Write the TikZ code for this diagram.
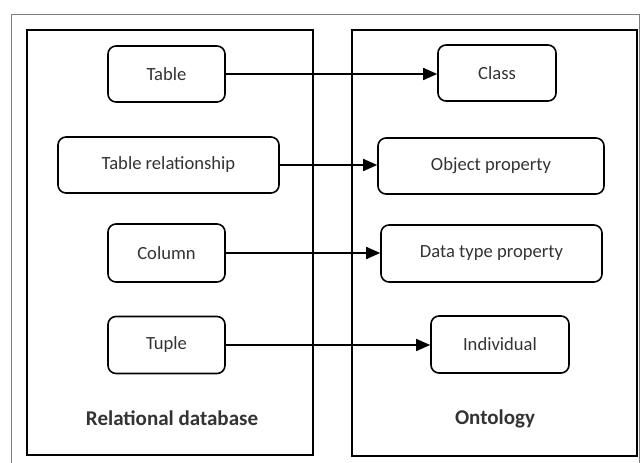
\documentclass[tikz,border=0pt]{standalone}
\usepackage{fontspec}
\setmainfont{Carlito}
\usetikzlibrary{arrows.meta}
\definecolor{txt}{HTML}{333333}
\definecolor{frame}{HTML}{808080}
\tikzset{
  item/.style={draw=black, line width=1.6pt, rounded corners=8pt, inner sep=0pt, text=txt, font=\fontsize{18.6}{22}\selectfont},
  group/.style={draw=black, line width=1.6pt},
  link/.style={line width=1.6pt, -{Triangle[length=14pt,width=12pt]}},
  grouplabel/.style={text=txt, font=\fontsize{21}{24}\bfseries\selectfont}
}
\begin{document}
\begin{tikzpicture}[x=1pt,y=-1pt]
\useasboundingbox (0,0) rectangle (641,463);
\draw[frame, line width=1pt] (11,14) rectangle (639,470);
\draw[group] (27,30) rectangle (313,455);
\draw[group] (352,30) rectangle (637,456);
% left items
\node[item, minimum width=117pt, minimum height=56pt] (table) at (166.5,74) {Table};
\node[item, minimum width=221pt, minimum height=56pt] (rel) at (168.5,165) {Table relationship};
\node[item, minimum width=117pt, minimum height=58pt] (col) at (166.5,253) {Column};
\node[item, minimum width=117pt, minimum height=57pt] (tuple) at (166.5,345) {Tuple};
\node[grouplabel] (rdb) at (172,418) {Relational database};
% right items
\node[item, minimum width=118pt, minimum height=56pt] (class) at (497,73) {Class};
\node[item, minimum width=226pt, minimum height=56pt] (obj) at (491,166) {Object property};
\node[item, minimum width=221pt, minimum height=57pt] (data) at (491.5,253.5) {Data type property};
\node[item, minimum width=138pt, minimum height=57pt] (ind) at (500,344.5) {Individual};
\node[grouplabel] (ont) at (495,419) {Ontology};
% links
\draw[link] (table.east) -- (table.east -| class.west);
\draw[link] (rel.east) -- (rel.east -| obj.west);
\draw[link] (col.east) -- (col.east -| data.west);
\draw[link] (tuple.east) -- (tuple.east -| ind.west);
\end{tikzpicture}
\end{document}
